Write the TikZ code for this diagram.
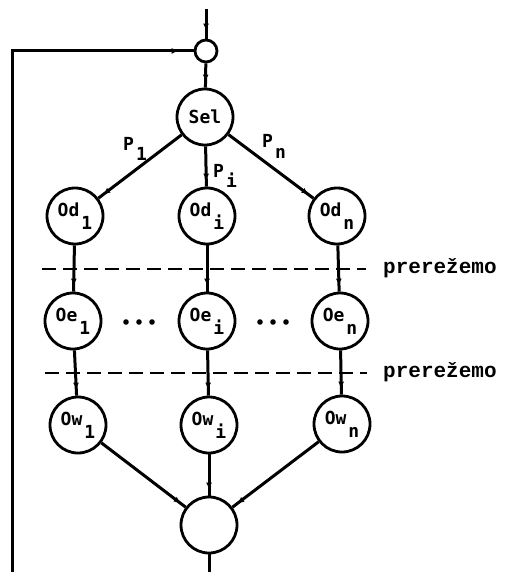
\documentclass[tikz,border=0pt]{standalone}
\usepackage{fontspec}
\setmonofont{Liberation Mono}
\newfontfamily\nodefont{DejaVu Sans Mono}
\usetikzlibrary{arrows.meta,decorations.markings}

% name with a lowered index, as typed on the original sheet
\newcommand\ixname[3]{#1\kern#3\raisebox{-13pt}{#2}}
\newcommand\plab[2]{#1\kern2pt\raisebox{-10pt}{#2}}

\tikzset{
  x=1pt, y=-1pt,
  proc/.style={circle, draw, line width=2.8pt, minimum size=56pt, inner sep=0pt,
               font=\nodefont\bfseries\fontsize{18}{18}\selectfont},
  junc/.style={circle, draw, line width=2.8pt, minimum size=22pt, inner sep=0pt},
  flow/.style={line width=3pt},
  tipat/.style={flow, postaction={decorate},
    decoration={markings, mark=at position #1 with {\arrow{Latex[length=7pt,width=6pt]}}}},
  tipat/.default=-6pt,
  cut/.style={line width=2.6pt, dash pattern=on 14pt off 7pt},
  cutlabel/.style={anchor=base west, inner sep=0pt, font=\ttfamily\bfseries\fontsize{21}{21}\selectfont},
  plabel/.style={anchor=base west, inner sep=0pt, font=\nodefont\bfseries\fontsize{18}{18}\selectfont},
}

\begin{document}
\begin{tikzpicture}
\useasboundingbox (0,0) rectangle (504,572);

% merge point and selector
\node[junc] (jn)  at (206,51)  {};
\node[proc] (sel) at (205,117) {Sel};

% three stages per branch
\node[proc] (od1) at (75,216)  {\ixname{Od}{1}{2pt}};
\node[proc] (odi) at (207,216) {\ixname{Od}{i}{2pt}};
\node[proc] (odn) at (337,216) {\ixname{Od}{n}{2pt}};

\node[proc] (oe1) at (73,321)  {\ixname{Oe}{1}{2pt}};
\node[proc] (oei) at (207,321) {\ixname{Oe}{i}{2pt}};
\node[proc] (oen) at (340,321) {\ixname{Oe}{n}{2pt}};

\node[proc] (ow1) at (78,425)  {\ixname{Ow}{1}{2pt}};
\node[proc] (owi) at (209,425) {\ixname{Ow}{i}{2pt}};
\node[proc] (own) at (342,424) {\ixname{Ow}{n}{2pt}};

% join
\node[proc] (out) at (209,525) {};

% free ends
\coordinate (src)   at (206,9);
\coordinate (sink)  at (209,572);
\coordinate (fbbot) at (12,572);
\coordinate (fbtop) at (12,51);

% connectors
\draw[tipat=-8pt] (src) -- (jn);
\draw[tipat] (jn) -- (sel);
\draw[tipat=-15pt] (fbbot) -- (fbtop) -- (jn);

\draw[tipat] (sel) -- (od1);
\draw[tipat] (sel) -- (odi);
\draw[tipat] (sel) -- (odn);

\draw[tipat] (od1) -- (oe1);
\draw[tipat] (odi) -- (oei);
\draw[tipat] (odn) -- (oen);

\draw[tipat] (oe1) -- (ow1);
\draw[tipat] (oei) -- (owi);
\draw[tipat] (oen) -- (own);

\draw[tipat] (ow1) -- (out);
\draw[tipat] (owi) -- (out);
\draw[tipat] (own) -- (out);

\draw[flow] (out) -- (sink);

% branch probabilities
\node[plabel] (p1) at (123,150) {\plab{P}{1}};
\node[plabel] (pi) at (213,177) {\plab{P}{i}};
\node[plabel] (pn) at (262,148) {\plab{P}{n}};

% ellipses between branches
\foreach \xx in {126,139,152,260,273,286}
  \fill (\xx,322) circle (2.8pt);

% cut lines
\draw[cut] (42,269) -- (366,269);
\node[cutlabel] (cuta) at (383,273) {prerežemo};
\draw[cut] (45,373) -- (367,373);
\node[cutlabel] (cutb) at (383,377) {prerežemo};
\end{tikzpicture}
\end{document}
